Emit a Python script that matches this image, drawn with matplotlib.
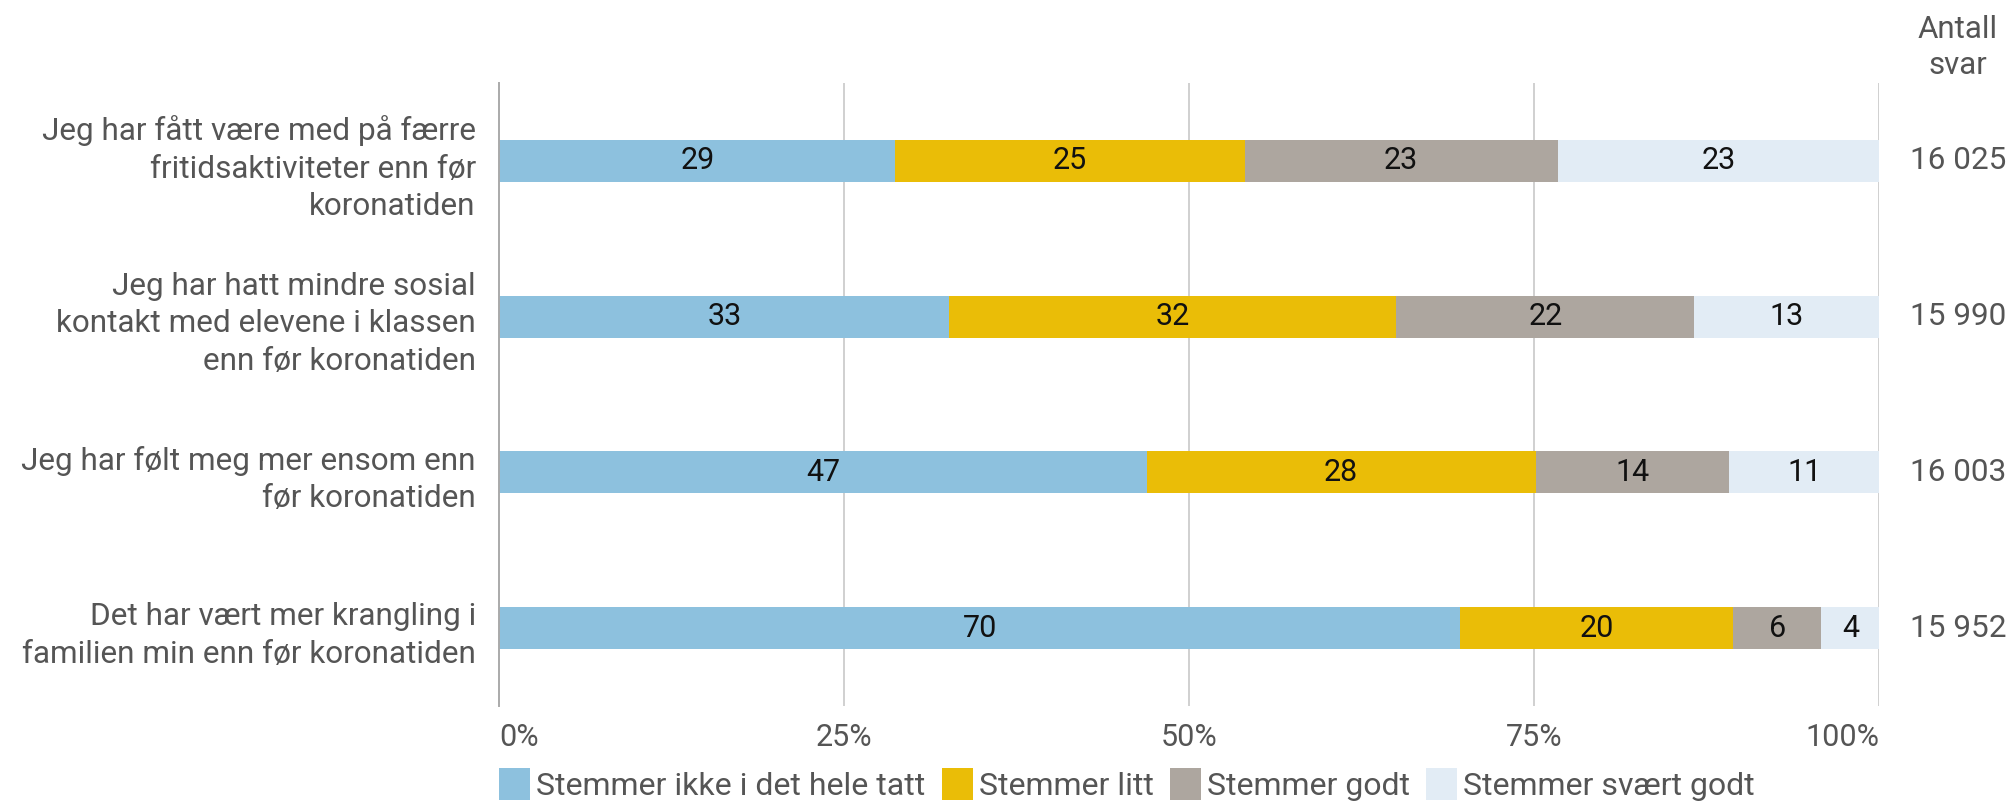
import numpy as np
import matplotlib
matplotlib.use("Agg")
import matplotlib.pyplot as plt
import matplotlib.transforms as mtransforms

plt.rcParams['font.family'] = ['Roboto', 'DejaVu Sans']

# Data
questions = [
    "Jeg har fått være med på færre\nfritidsaktiviteter enn før\nkoronatiden",
    "Jeg har hatt mindre sosial\nkontakt med elevene i klassen\nenn før koronatiden",
    "Jeg har følt meg mer ensom enn\nfør koronatiden",
    "Det har vært mer krangling i\nfamilien min enn før koronatiden",
]
series_names = ["Stemmer ikke i det hele tatt", "Stemmer litt",
                "Stemmer godt", "Stemmer svært godt"]
ikke = [28.7, 32.6, 46.9, 69.6]
litt = [25.3, 32.4, 28.2, 19.8]
godt = [22.7, 21.6, 14.0, 6.4]
svaert = [23.3, 13.4, 10.9, 4.2]
antall = ["16 025", "15 990", "16 003", "15 952"]
ticks = [0, 25, 50, 75, 100]
tick_labels = ["0%", "25%", "50%", "75%", "100%"]

colors = ["#8dc1de", "#eabd07", "#ada69f", "#e2ecf5"]
grey_text = "#555555"

fig = plt.figure(figsize=(20.13, 8.02), dpi=100)
ax = fig.add_axes([0.2481, 0.1197, 0.6855, 0.7768])

y = np.arange(len(questions))
left = np.zeros(len(questions))
handles = []
for vals, name, col in zip([ikke, litt, godt, svaert], series_names, colors):
    vals = np.array(vals)
    b = ax.barh(y, vals, left=left, height=0.27, color=col, label=name, zorder=3)
    handles.append(b)
    for yi, l, v in zip(y, left, vals):
        ax.text(l + v / 2, yi, f"{int(round(v))}", ha="center", va="center",
                fontsize=22, color="#111111", zorder=4)
    left = left + vals

ax.set_xlim(0, 100)
ax.set_ylim(3.5, -0.5)
ax.set_yticks(y)
ax.set_yticklabels(questions, fontsize=22.7, color=grey_text, linespacing=1.37)
ax.set_xticks(ticks)
ax.set_xticklabels(tick_labels, fontsize=22, color=grey_text)
for lab, t in zip(ax.get_xticklabels(), ticks):
    if t == 0:
        lab.set_ha("left")
    elif t == 100:
        lab.set_ha("right")
ax.tick_params(axis="both", length=0)
ax.tick_params(axis="y", pad=17)
ax.tick_params(axis="x", pad=12)

for s in ["top", "right", "bottom"]:
    ax.spines[s].set_visible(False)
ax.spines["left"].set_color("#aaaaaa")
ax.spines["left"].set_linewidth(1.4)
ax.spines["left"].set_zorder(5)
for t in ticks[1:]:
    ax.axvline(t, color="#c8c8c8", lw=1.2, zorder=1)

# right column: number of answers
trans = mtransforms.blended_transform_factory(ax.transAxes, ax.transData)
for yi, n in zip(y, antall):
    ax.text(1.057, yi, n, transform=trans, ha="center", va="center",
            fontsize=22.7, color=grey_text)
ax.text(1.057, 1.057, "Antall\nsvar", transform=ax.transAxes, ha="center",
        va="center", fontsize=22.5, color=grey_text, linespacing=1.3)

leg = ax.legend(handles=handles, loc="upper left", bbox_to_anchor=(0, -0.1),
                ncol=4, frameon=False, fontsize=23, borderaxespad=0,
                borderpad=0, handlelength=0.97, handleheight=1.15,
                handletextpad=0.19, columnspacing=0.5)
for t in leg.get_texts():
    t.set_color(grey_text)

fig.savefig("out.png", dpi=100)
